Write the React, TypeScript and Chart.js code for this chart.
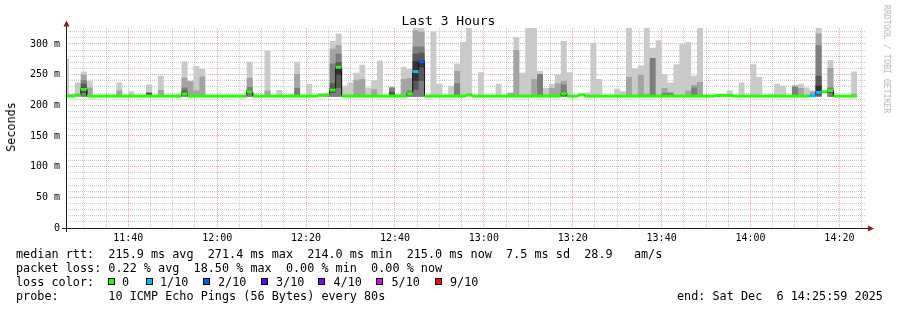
import React, { useEffect, useRef } from "react";
import { Chart, registerables } from "chart.js";

Chart.register(...registerables);

const MONO = "'DejaVu Sans Mono', 'Liberation Mono', monospace";

// time axis (seconds of day)
const RANGE_START = 41159; // 11:25:59
const RANGE_END = 51959; // 14:25:59
const FIRST_STEP_START = 41119;
const STEP = 80;
const SMOKE_FLOOR = 214;
const Y_MAX = 326;

const _ = null;

// smoke: sorted ping values (ms) per 80 s step
const ping10: (number | null)[] = [
  276, 219, 237, 255, 240, _, _, _, 217, 237,
  _, 223, _, _, 234, _, 248, _, _, 218,
  272, 240, 264, 259, _, _, _, _, _, _,
  217, 271, 219, _, 289, _, 225, _, 218, 271,
  _, 235, _, 219, 220, 305, 317, 232, 237, 253,
  266, 229, 241, 273, _, 231, 218, 263, 259, 326,
  326, _, 320, 235, _, 232, 268, 303, 326, _,
  254, _, _, 235, _, 221, 311, 253, 326, 326,
  256, 228, 235, 250, 305, 254, _, _, 221, 301,
  243, _, _, 227, 223, 326, 260, 265, 326, 294,
  306, 251, 237, 267, 300, 303, 248, 326, _, _,
  _, _, 224, _, 237, _, 267, 246, _, 218,
  235, 232, _, 233, 235, 229, 224, 326, _, 274,
  _, _, _, 255,
];

const ping9: (number | null)[] = [
  _, _, _, 250, 229, _, _, _, _, 224,
  _, _, _, _, _, _, 225, _, _, _,
  245, 239, 224, 247, _, _, _, _, _, _,
  _, 245, _, _, 224, _, _, _, _, 251,
  _, _, _, _, _, 292, 298, _, _, 241,
  243, _, 226, _, _, _, _, 243, 244, 322,
  320, _, _, _, _, _, 256, _, _, _,
  _, _, _, _, _, 220, 290, _, _, 243,
  _, _, 228, 236, 240, _, _, _, _, _,
  _, _, _, _, _, 246, _, 250, 219, _,
  _, 228, _, _, _, 224, 233, 238, _, _,
  _, _, _, _, _, _, _, _, _, _,
  _, _, _, 232, 228, _, 222, 317, _, 261,
  _, _, _, 219,
];

const ping8: (number | null)[] = [
  _, _, _, 241, _, _, _, _, _, _,
  _, _, _, _, _, _, _, _, _, _,
  229, _, _, _, _, _, _, _, _, _,
  _, 230, _, _, _, _, _, _, _, 228,
  _, _, _, _, _, 268, 284, _, _, _,
  _, _, _, _, _, 229, _, _, 224, 296,
  296, _, _, _, _, _, 236, _, _, _,
  _, _, _, _, _, _, _, _, _, _,
  251, _, _, _, 234, _, _, _, _, _,
  _, _, _, _, _, _, _, _, _, 277,
  _, 220, 221, _, _, _, 229, _, _, _,
  _, _, _, _, _, _, _, _, _, _,
  _, _, _, 230, _, _, _, 298, _, 229,
  _, _, _, _,
];

const ping7: (number | null)[] = [
  _, _, _, 235, _, _, _, _, _, _,
  _, _, _, _, 221, _, _, _, _, _,
  224, _, _, _, _, _, _, _, _, _,
  _, 225, _, _, _, _, _, _, _, _,
  _, _, _, _, 218, 236, 270, _, _, _,
  _, _, _, _, _, 222, _, _, 221, 284,
  286, _, _, _, _, _, _, _, _, _,
  _, _, _, _, _, _, _, _, _, _,
  _, _, _, _, 222, _, _, _, _, _,
  _, _, _, _, _, _, _, _, _, _,
  _, _, _, _, _, _, _, _, _, _,
  _, _, _, _, _, _, _, _, _, _,
  _, _, _, _, _, _, _, 248, _, 226,
  _, _, _, _,
];

const ping6: (number | null)[] = [
  _, _, _, 229, _, _, _, _, _, _,
  _, _, _, _, _, _, _, _, _, _,
  220, _, _, _, _, _, _, _, _, _,
  _, 223, _, _, _, _, _, _, _, _,
  _, _, _, _, _, 228, 264, _, _, _,
  _, _, _, _, _, _, _, _, _, 272,
  274, _, _, _, _, _, _, _, _, _,
  _, _, _, _, _, _, _, _, _, _,
  _, _, _, _, _, _, _, _, _, _,
  _, _, _, _, _, _, _, _, _, _,
  _, _, _, _, _, _, _, _, _, _,
  _, _, _, _, _, _, _, _, _, _,
  _, _, _, _, _, _, _, 232, _, _,
  _, _, _, _,
];

// lower half (only where it rises above the floor)
const ping5: (number | null)[] = [
  _, _, _, 224, _, _, _, _, _, _,
  _, _, _, _, _, _, _, _, _, _,
  217, _, _, _, _, _, _, _, _, _,
  _, 221, _, _, _, _, _, _, _, _,
  _, _, _, _, _, 223, 250, _, _, _,
  _, _, _, _, _, _, _, _, _, 240,
  262, _, _, _, _, _, _, _, _, _,
  _, _, _, _, _, _, _, _, _, _,
  _, _, _, _, _, _, _, _, _, _,
  _, _, _, _, _, _, _, _, _, _,
  _, _, _, _, _, _, _, _, _, _,
  _, _, _, _, _, _, _, _, _, _,
  _, _, _, _, _, _, _, 219, _, _,
  _, _, _, _,
];

const ping4: (number | null)[] = [
  _, _, _, 220, _, _, _, _, _, _,
  _, _, _, _, _, _, _, _, _, _,
  216, _, _, _, _, _, _, _, _, _,
  _, 219, _, _, _, _, _, _, _, _,
  _, _, _, _, _, 220, 228, _, _, _,
  _, _, _, _, _, _, _, _, 217, 225,
  240, _, _, _, _, _, _, _, _, _,
  _, _, _, _, _, _, _, _, _, _,
  _, _, _, _, 216, _, _, _, _, _,
  _, _, _, _, _, _, _, _, _, _,
  _, _, _, _, _, _, _, _, _, _,
  _, _, _, _, _, _, _, _, _, _,
  _, _, _, _, _, _, _, 216, _, 220,
  _, _, _, _,
];

const medianRtt: number[] = [
  215, 215, 216.5, 226, 215, 215, 215, 215, 215, 215,
  215, 215, 215, 215, 215, 215, 215, 215, 215, 215,
  218.5, 215, 215, 215, 215, 215, 215, 215, 215, 215,
  215, 222, 215, 215, 215, 215, 215, 215, 215, 215,
  215, 215, 215, 216.5, 216.5, 225, 262, 215, 215, 215,
  215, 215, 215, 215, 215, 215, 215, 215, 219, 255,
  271, 215, 215, 215, 215, 215, 215, 215, 217, 215,
  215, 215, 215, 215, 215, 215, 215, 215, 215, 215,
  215, 215, 215, 215, 219, 215, 215, 217, 215, 215,
  215, 215, 215, 215, 215, 215, 215, 215, 215, 215,
  215, 215, 215, 215, 215, 215, 215, 215, 215, 215,
  216, 216, 216, 215, 215, 215, 215, 215, 215, 215,
  215, 215, 215, 215, 215, 215, 215.5, 221, 222, 224,
  215, 215, 215, 215,
];

// index into LOSS_COLORS
const lossLevel: number[] = [
  0, 0, 0, 0, 0, 0, 0, 0, 0, 0,
  0, 0, 0, 0, 0, 0, 0, 0, 0, 0,
  0, 0, 0, 0, 0, 0, 0, 0, 0, 0,
  0, 0, 0, 0, 0, 0, 0, 0, 0, 0,
  0, 0, 0, 0, 0, 0, 0, 0, 0, 0,
  0, 0, 0, 0, 0, 0, 0, 0, 0, 1,
  2, 0, 0, 0, 0, 0, 0, 0, 0, 0,
  0, 0, 0, 0, 0, 0, 0, 0, 0, 0,
  0, 0, 0, 0, 0, 0, 0, 0, 0, 0,
  0, 0, 0, 0, 0, 0, 0, 0, 0, 0,
  0, 0, 0, 0, 0, 0, 0, 0, 0, 0,
  0, 0, 0, 0, 0, 0, 0, 0, 0, 0,
  0, 0, 0, 0, 0, 0, 1, 1, 0, 0,
  0, 0, 0, 0,
];

const LOSS_LABELS = ["0", "1/10", "2/10", "3/10", "4/10", "5/10", "9/10"];
const LOSS_COLORS = ["#26ff00", "#00b8ff", "#0059ff", "#5e00ff", "#7e00ff", "#dd00ff", "#ff0000"];
const SMOKE_COLORS = ["#cacaca", "#a4a4a4", "#7e7e7e", "#585858", "#323232"];

const LINE_RTT = "median rtt:  215.9 ms avg  271.4 ms max  214.0 ms min  215.0 ms now  7.5 ms sd  28.9   am/s";
const LINE_LOSS = "packet loss: 0.22 % avg  18.50 % max  0.00 % min  0.00 % now";
const LINE_PROBE = "probe:       10 ICMP Echo Pings (56 Bytes) every 80s";
const LINE_END = "end: Sat Dec  6 14:25:59 2025";

// legend layout (pixels)
const LOSS_BOX_X = [108, 145.5, 203, 261, 318, 376, 435];
const LOSS_TEXT_X = [122, 160, 218, 276, 333.5, 391.5, 450];

function stepPoints(values: (number | null)[], fallback: number) {
  const pts: { x: number; y: number }[] = [];
  values.forEach((v, k) => {
    const x0 = FIRST_STEP_START + k * STEP;
    const y = v == null ? fallback : v;
    pts.push({ x: x0, y }, { x: x0 + STEP, y });
  });
  return pts;
}

function fmtTime(v: number) {
  const h = Math.floor(v / 3600);
  const m = Math.floor((v % 3600) / 60);
  return `${h}:${String(m).padStart(2, "0")}`;
}

const MAJOR_GRID = "rgba(222,79,79,0.5)";
const MINOR_GRID = "rgba(143,143,143,0.45)";

const rrdAxes = {
  id: "rrdAxes",
  afterDraw(chart: any) {
    const { ctx, chartArea: a } = chart;
    ctx.save();
    ctx.strokeStyle = "#1f1f1f";
    ctx.lineWidth = 1;
    ctx.beginPath();
    ctx.moveTo(a.left - 4, a.bottom + 0.5);
    ctx.lineTo(a.right + 3, a.bottom + 0.5);
    ctx.moveTo(a.left + 0.5, a.bottom + 4);
    ctx.lineTo(a.left + 0.5, a.top - 2);
    ctx.stroke();
    ctx.fillStyle = "#801f1f";
    ctx.beginPath();
    ctx.moveTo(a.left + 0.5, a.top - 7.5);
    ctx.lineTo(a.left - 2.5, a.top - 1.5);
    ctx.lineTo(a.left + 3.5, a.top - 1.5);
    ctx.closePath();
    ctx.fill();
    ctx.beginPath();
    ctx.moveTo(a.right + 8, a.bottom + 0.5);
    ctx.lineTo(a.right + 2, a.bottom - 2.5);
    ctx.lineTo(a.right + 2, a.bottom + 3.5);
    ctx.closePath();
    ctx.fill();
    ctx.restore();
  },
};

export default function App() {
  const ref = useRef<HTMLCanvasElement>(null);

  useEffect(() => {
    if (!ref.current) return;
    // dataset indices: 0..4 smoke bands, 5 = ping5 lower edge, 6 = ping4 lower edge
    const bandTops = [ping10, ping9, ping8, ping7, ping6];
    const bandFill: any[] = [
      { value: SMOKE_FLOOR },
      { value: SMOKE_FLOOR },
      { value: SMOKE_FLOOR },
      6,
      5,
    ];
    const datasets: any[] = bandTops.map((arr, i) => ({
      label: `smoke${i}`,
      data: stepPoints(arr, SMOKE_FLOOR),
      borderWidth: 0,
      borderColor: "rgba(0,0,0,0)",
      backgroundColor: SMOKE_COLORS[i],
      fill: bandFill[i],
      pointRadius: 0,
      order: 10 - i,
    }));
    datasets.push({
      label: "ping5",
      data: stepPoints(ping5, SMOKE_FLOOR),
      borderWidth: 0,
      borderColor: "rgba(0,0,0,0)",
      fill: false,
      pointRadius: 0,
      order: 20,
    });
    datasets.push({
      label: "ping4",
      data: stepPoints(ping4, SMOKE_FLOOR),
      borderWidth: 0,
      borderColor: "rgba(0,0,0,0)",
      fill: false,
      pointRadius: 0,
      order: 21,
    });
    const medPts = stepPoints(medianRtt, 215);
    datasets.push({
      label: "median-outline",
      data: medPts,
      borderWidth: 1,
      borderColor: "#1a1a1a",
      fill: false,
      pointRadius: 0,
      order: 2,
    });
    datasets.push({
      label: "median",
      data: medPts,
      borderWidth: 3,
      borderCapStyle: "butt",
      borderColor: LOSS_COLORS[0],
      fill: false,
      pointRadius: 0,
      order: 1,
      segment: {
        borderColor: (c: any) =>
          c.p0DataIndex % 2 === 0
            ? LOSS_COLORS[lossLevel[c.p0DataIndex / 2]]
            : "rgba(0,0,0,0)",
      },
    });

    const chart = new Chart(ref.current, {
      type: "line",
      data: { datasets },
      options: {
        animation: false,
        responsive: false,
        devicePixelRatio: 1,
        events: [],
        layout: { padding: { left: 0, right: 31, top: 28, bottom: 0 } },
        plugins: {
          legend: { display: false },
          title: { display: false },
          tooltip: { enabled: false },
        },
        elements: { line: { tension: 0 }, point: { radius: 0 } },
        scales: {
          x: {
            type: "linear",
            min: RANGE_START,
            max: RANGE_END,
            afterBuildTicks: (s: any) => {
              const t: any[] = [];
              for (let v = Math.ceil(RANGE_START / 300) * 300; v <= RANGE_END; v += 300) t.push({ value: v });
              s.ticks = t;
            },
            afterFit: (s: any) => {
              s.height = 82;
            },
            grid: {
              color: (c: any) => (c.tick && c.tick.value % 1200 === 0 ? MAJOR_GRID : MINOR_GRID),
              lineWidth: 1,
              drawTicks: false,
            },
            border: { display: false, dash: [1, 1] },
            ticks: {
              autoSkip: false,
              maxRotation: 0,
              padding: 4,
              color: "#000",
              font: { family: MONO, size: 10 },
              callback: (v: any) => (Number(v) % 1200 === 0 ? fmtTime(Number(v)) : ""),
            },
          },
          y: {
            type: "linear",
            min: 0,
            max: Y_MAX,
            afterBuildTicks: (s: any) => {
              const t: any[] = [];
              for (let v = 0; v <= Y_MAX; v += 10) t.push({ value: v });
              s.ticks = t;
            },
            afterFit: (s: any) => {
              s.width = 66;
            },
            grid: {
              color: (c: any) => (c.tick && c.tick.value % 50 === 0 ? MAJOR_GRID : MINOR_GRID),
              lineWidth: 1,
              drawTicks: false,
            },
            border: { display: false, dash: [1, 1] },
            ticks: {
              autoSkip: false,
              padding: 6,
              color: "#000",
              font: { family: MONO, size: 10 },
              callback: (v: any) => {
                const n = Number(v);
                if (n % 50 !== 0) return "";
                return n === 0 ? "0" : `${n} m`;
              },
            },
          },
        },
      },
      plugins: [rrdAxes],
    } as any);
    return () => chart.destroy();
  }, []);

  const legendFont: React.CSSProperties = {
    position: "absolute",
    fontSize: 11.8,
    lineHeight: "14px",
    whiteSpace: "pre",
    color: "#000",
  };

  return (
    <div
      style={{
        position: "fixed",
        left: 0,
        top: 0,
        width: 897,
        height: 310,
        background: "#fff",
        fontFamily: MONO,
        overflow: "hidden",
      }}
    >
      <canvas ref={ref} width={897} height={310} style={{ position: "absolute", left: 0, top: 0 }} />
      <div
        style={{
          position: "absolute",
          left: 0,
          top: 12.5,
          width: 897,
          textAlign: "center",
          fontSize: 13,
          lineHeight: "16px",
          color: "#000",
        }}
      >
        Last 3 Hours
      </div>
      <div
        style={{
          position: "absolute",
          left: 10.5,
          top: 126.5,
          transform: "translate(-50%,-50%) rotate(-90deg)",
          fontSize: 11.8,
          lineHeight: "14px",
          whiteSpace: "nowrap",
          color: "#000",
        }}
      >
        Seconds
      </div>
      <div
        style={{
          position: "absolute",
          left: 887,
          top: 59,
          transform: "translate(-50%,-50%) rotate(90deg)",
          fontSize: 8.2,
          lineHeight: "10px",
          whiteSpace: "nowrap",
          color: "#b4b4b4",
        }}
      >
        RRDTOOL / TOBI OETIKER
      </div>
      <div style={{ ...legendFont, left: 16, top: 247.4 }}>{LINE_RTT}</div>
      <div style={{ ...legendFont, left: 16, top: 261.4 }}>{LINE_LOSS}</div>
      <div style={{ ...legendFont, left: 16, top: 275.4 }}>loss color:</div>
      {LOSS_LABELS.map((lbl, i) => (
        <React.Fragment key={lbl}>
          <div
            style={{
              position: "absolute",
              left: LOSS_BOX_X[i],
              top: 278,
              width: 7,
              height: 7,
              boxSizing: "border-box",
              border: "1px solid #000",
              background: LOSS_COLORS[i],
            }}
          />
          <div style={{ ...legendFont, left: LOSS_TEXT_X[i], top: 275.4 }}>{lbl}</div>
        </React.Fragment>
      ))}
      <div style={{ ...legendFont, left: 16, top: 289.4 }}>{LINE_PROBE}</div>
      <div style={{ ...legendFont, left: 677, top: 289.4 }}>{LINE_END}</div>
    </div>
  );
}
